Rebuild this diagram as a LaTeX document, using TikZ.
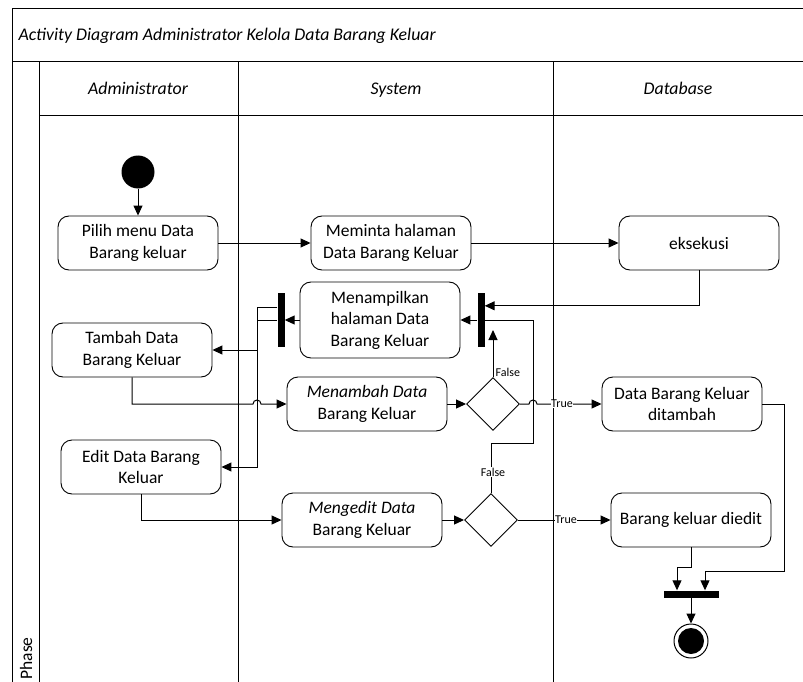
\documentclass[tikz,border=0pt]{standalone}
\usepackage{fontspec}
\setmainfont{Carlito}
\usepackage{tikz}
\usetikzlibrary{arrows.meta, shapes.geometric}

\begin{document}
\begin{tikzpicture}[x=1pt, y=-1pt,
    lane/.style = {line width=1pt},
    heading/.style = {anchor=base, font=\fontsize{17.8}{21}\selectfont\itshape},
    activity/.style = {draw, rounded corners=11pt, line width=0.9pt, align=center,
      minimum width=160pt, minimum height=54pt, inner sep=1pt,
      font=\fontsize{17.5}{21.5}\selectfont},
    syncbar/.style = {fill=black, inner sep=0pt},
    decision/.style = {draw, diamond, aspect=1, minimum size=53pt, inner sep=0pt, line width=0.9pt},
    flow/.style = {-{Triangle[length=10pt, width=9pt]}, line width=1pt},
    guard/.style = {font=\fontsize{12}{14}\selectfont, inner sep=0.5pt, fill=white}]
      \useasboundingbox (0,0) rectangle (803,682);
      \clip (0,0) rectangle (803,682);

      \draw[lane] (820,9) -- (12,9) -- (12,700);
      \draw[lane] (12,62) -- (820,62);
      \draw[lane] (39,62) -- (39,700);
      \draw[lane] (39,116) -- (820,116);
      \draw[lane] (238,62) -- (238,700);
      \draw[lane] (553,62) -- (553,700);

      \node[heading, anchor=base west] (title) at (15,41)
        {Activity Diagram Administrator Kelola Data Barang Keluar};
      \node[heading] (hadmin) at (138,95) {Administrator};
      \node[heading] (hsystem) at (396,95) {System};
      \node[heading] (hdb) at (678,95) {Database};
      \node[rotate=90, anchor=base west, font=\fontsize{17.5}{21}\selectfont] (phase) at (32,683) {Phase};

      \node[circle, fill=black, minimum size=33pt, inner sep=0pt] (start) at (138,172) {};
      \node[activity] (pilih) at (138,243) {Pilih menu Data\\Barang keluar};
      \node[activity] (meminta) at (391,243) {Meminta halaman\\Data Barang Keluar};
      \node[activity] (eksekusi) at (699,243) {eksekusi};
      \node[syncbar, minimum width=7pt, minimum height=54pt] (barR) at (481,320) {};
      \node[activity, minimum height=76pt] (tampil) at (380,320) {Menampilkan\\halaman Data\\Barang Keluar};
      \node[syncbar, minimum width=7pt, minimum height=54pt] (barL) at (281,320) {};
      \node[activity] (tambah) at (132,350) {Tambah Data\\Barang Keluar};
      \node[activity] (menambah) at (367,404) {\textit{Menambah Data}\\Barang Keluar};
      \node[decision] (dec1) at (493,404) {};
      \node[activity] (ditambah) at (682,404) {Data Barang Keluar\\ditambah};
      \node[activity] (edit) at (141,467) {Edit Data Barang\\Keluar};
      \node[activity] (mengedit) at (362,520) {\textit{Mengedit Data}\\Barang Keluar};
      \node[decision] (dec2) at (491,520) {};
      \node[activity] (diedit) at (691,520) {Barang keluar diedit};
      \node[syncbar, minimum width=55pt, minimum height=7pt] (join) at (691,594) {};
      \node[circle, draw, line width=1pt, minimum size=34pt, inner sep=0pt] (end) at (691,641) {};
      \fill (end.center) circle[radius=13pt];

      \coordinate (hop1) at (253,404);
      \coordinate (hop2) at (529,404);
      \coordinate (j1) at (257,307);
      \coordinate (j2) at (257,320);
      \coordinate (f1) at (493,330);
      \coordinate (k1) at (533,443);
      \coordinate (k2) at (784,571);
      \coordinate (k3) at (691,567);

      \draw[flow] (start) -- (pilih);
      \draw[flow] (pilih) -- (meminta);
      \draw[flow] (meminta) -- (eksekusi);
      \draw[flow] (eksekusi.south) |- ([yshift=-13pt]barR.north east);
      \draw[flow] (barR) -- (tampil);
      \draw[flow] (tampil) -- (barL);
      \draw[flow] ([yshift=13pt]barL.west) -- (j1) |- (tambah.east);
      \draw[flow] (barL.west) -- (j2) |- (edit.east);
      \draw[flow] (tambah.south) |- (hop1) arc[start angle=180, end angle=0, radius=4pt] -- (menambah.west);
      \draw[flow] (edit.south) |- (mengedit.west);
      \draw[flow] (menambah) -- (dec1);
      \draw[flow] (mengedit) -- (dec2);
      \draw[flow] (dec1.north) -- (f1);
      \draw[line width=1pt] (dec2.north) |- (k1) |- (barR.east);
      \draw[flow] (dec1.east) -- (hop2) arc[start angle=180, end angle=0, radius=4pt] -- (ditambah.west);
      \draw[flow] (dec2) -- (diedit);
      \draw[flow] (ditambah.east) -| (k2) -| ([xshift=14pt]join.north);
      \draw[flow] (diedit.south) -- (k3) -| ([xshift=-14pt]join.north);
      \draw[flow] (join) -- (end);

      \node[guard, fill=none, anchor=west] (false1) at (495,372) {False};
      \node[guard] (false2) at (493,472) {False};
      \node[guard] (true1) at (562,404) {True};
      \node[guard] (true2) at (566,520) {True};
    \end{tikzpicture}
\end{document}
